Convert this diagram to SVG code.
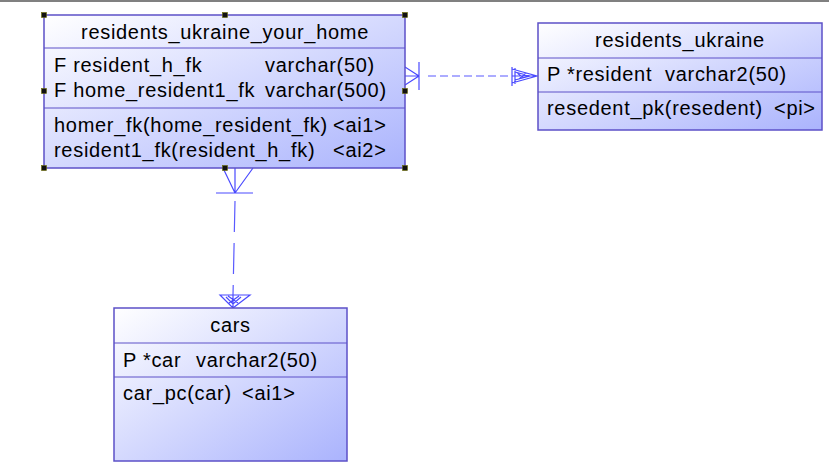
<svg xmlns="http://www.w3.org/2000/svg" width="829" height="465" viewBox="0 0 829 465">
<defs>
<linearGradient id="g" x1="0" y1="0" x2="1" y2="1">
<stop offset="0" stop-color="#ffffff"/>
<stop offset="1" stop-color="#aab3fd"/>
</linearGradient>
<style>
.box{fill:url(#g);stroke:#5c50c8;stroke-width:1.5}
.div{stroke:#5c50c8;stroke-width:1}
text{font-family:"Liberation Sans",Arial,sans-serif;font-size:20px;fill:#000;letter-spacing:0.7px}
.t{text-anchor:middle}
.c{stroke:#4a4aff;stroke-width:1.2;fill:none}
.d{stroke:#5a5aff;stroke-width:1.2;fill:none}
.h{fill:#111;stroke:#6b6b00;stroke-width:0.6}
</style>
</defs>
<rect x="0" y="0" width="829" height="2" fill="#808080"/>

<g id="connectors">
<g id="c1">
<path class="c" d="M405,67 L419,76 M405,76 L419,76 M405,85 L419,76 M419,62 L419,90"/>
<path class="d" d="M428,76 L512,76" stroke-dasharray="8,4"/>
<path class="c" d="M512,67 L512,86 M515,68 L515,84 M512,69 L537,76 L512,83 M515,72 L530,76 L515,80 M517,73 L524,78 M519,79 L526,73 M512,76 L537,76"/>
</g>
<g id="c2">
<path class="c" d="M223,168 L235,193 M235,168 L235,193 M253,168 L235,193 M216,193 L253,193"/>
<path class="d" d="M235,201 L233,295" stroke-dasharray="31,11"/>
<path class="c" d="M220,295 L250,295 L233,308 Z M226,297 L233,304 L241,297 M228,296 L238,303 M239,296 L229,303 M233,295 L233,308"/>
</g>
</g>

<g id="residents_ukraine_your_home">
<rect class="box" x="44" y="15" width="361" height="153"/>
<line class="div" x1="44" y1="48" x2="405" y2="48"/>
<line class="div" x1="44" y1="108" x2="405" y2="108"/>
<text class="t" x="225" y="39">residents_ukraine_your_home</text>
<text x="54" y="72">F resident_h_fk</text>
<text x="265" y="72">varchar(50)</text>
<text x="54" y="97">F home_resident1_fk</text>
<text x="265" y="97">varchar(500)</text>
<text x="54" y="132">homer_fk(home_resident_fk)</text>
<text x="333" y="132">&lt;ai1&gt;</text>
<text x="54" y="157">resident1_fk(resident_h_fk)</text>
<text x="333" y="157">&lt;ai2&gt;</text>
<rect class="h" x="41.5" y="12.5" width="5" height="5"/>
<rect class="h" x="222.5" y="12.5" width="5" height="5"/>
<rect class="h" x="402.5" y="12.5" width="5" height="5"/>
<rect class="h" x="41.5" y="88.5" width="5" height="5"/>
<rect class="h" x="402.5" y="88.5" width="5" height="5"/>
<rect class="h" x="41.5" y="165.5" width="5" height="5"/>
<rect class="h" x="222.5" y="165.5" width="5" height="5"/>
<rect class="h" x="402.5" y="165.5" width="5" height="5"/>
</g>

<g id="residents_ukraine">
<rect class="box" x="538" y="23" width="284" height="107"/>
<line class="div" x1="538" y1="58" x2="822" y2="58"/>
<line class="div" x1="538" y1="92" x2="822" y2="92"/>
<text class="t" x="680" y="47">residents_ukraine</text>
<text x="547" y="81">P *resident</text>
<text x="665" y="81">varchar2(50)</text>
<text x="547" y="115">resedent_pk(resedent)</text>
<text x="774" y="115">&lt;pi&gt;</text>
</g>

<g id="cars">
<rect class="box" x="114" y="308" width="233" height="153"/>
<line class="div" x1="114" y1="343" x2="347" y2="343"/>
<line class="div" x1="114" y1="377" x2="347" y2="377"/>
<text class="t" x="230.5" y="332">cars</text>
<text x="123" y="367">P *car</text>
<text x="196" y="367">varchar2(50)</text>
<text x="123" y="400">car_pc(car)</text>
<text x="242" y="400">&lt;ai1&gt;</text>
</g>
</svg>
